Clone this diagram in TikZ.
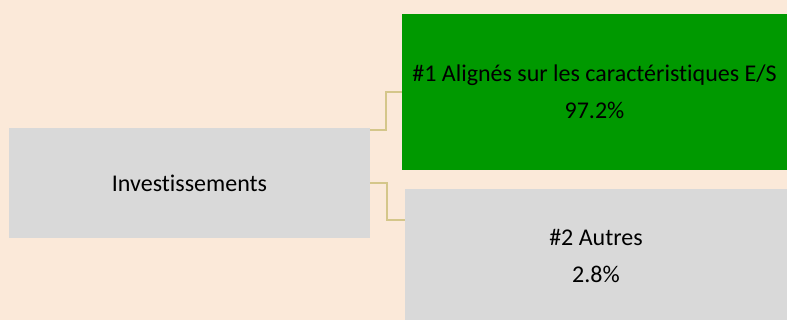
\documentclass[tikz,border=0pt]{standalone}
\usepackage{fontspec}
\setmainfont{Carlito}[Ligatures=NoCommon]
\definecolor{pagebg}{HTML}{FBE9D9}
\definecolor{boxgray}{HTML}{D9D9D9}
\definecolor{boxgreen}{HTML}{009900}
\definecolor{linkc}{HTML}{D4C68A}
\begin{document}
\begin{tikzpicture}[x=1pt,y=-1pt,
  box/.style={draw=none, inner sep=0pt, align=center, text=black,
    font=\fontsize{24}{37}\selectfont},
  link/.style={draw=linkc, line width=2pt}]
\useasboundingbox (0,0) rectangle (787,320);
\fill[pagebg] (0,0) rectangle (787,320);
\clip (0,0) rectangle (787,320);

% root and the two branches
\node[box, fill=boxgray, minimum width=361pt, minimum height=110pt] (inv) at (189.5,183) {Investissements};
\node[box, fill=boxgreen, minimum width=385pt, minimum height=156pt] (al) at (594.5,92)
  {\#1 Alignés sur les caractéristiques E/S\\97.2\%};
\node[box, fill=boxgray, minimum width=382pt, minimum height=134pt] (au) at (596,256)
  {\#2 Autres\\2.8\%};

% elbow connectors
\draw[link] ([yshift=53pt]inv.east) -- ++(16,0) |- (al.west);
\draw[link] (inv.east) -- ++(17,0) |- ([yshift=36pt]au.west);
\end{tikzpicture}
\end{document}
